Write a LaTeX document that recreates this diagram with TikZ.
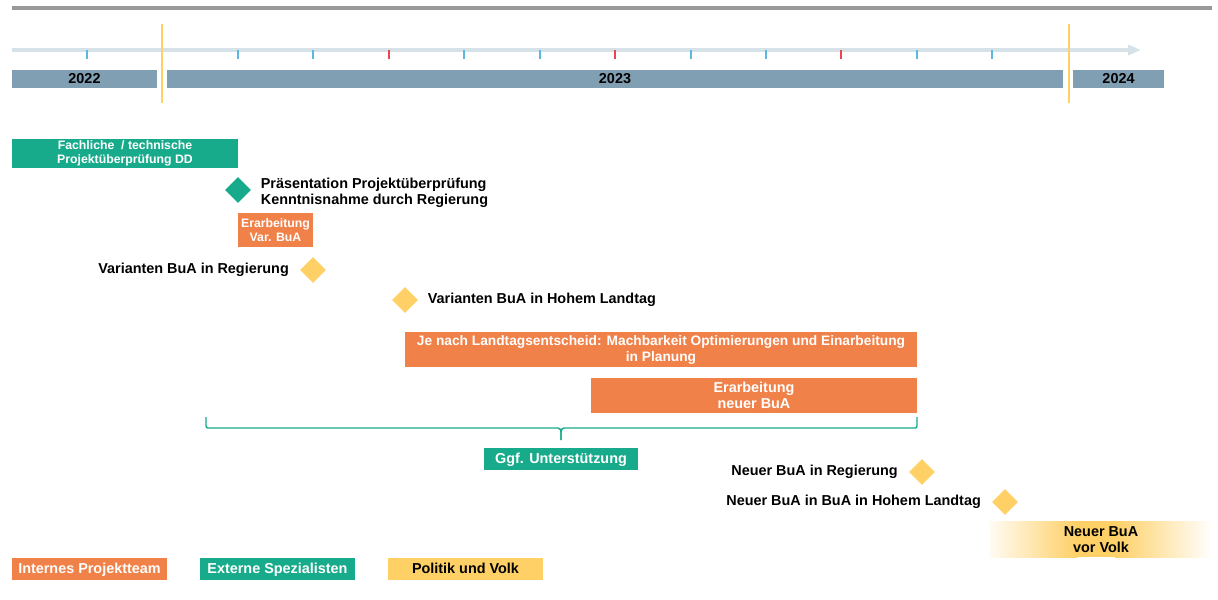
\documentclass[tikz,border=0pt]{standalone}
\usepackage{fontspec}
\setmainfont{Liberation Sans}
\usepackage{tikz}
\usetikzlibrary{arrows.meta, positioning, shapes.geometric}

\definecolor{tealgreen}{HTML}{18AB8B}
\definecolor{projorange}{HTML}{F08149}
\definecolor{politgold}{HTML}{FED066}
\definecolor{yearblue}{HTML}{819FB3}
\definecolor{axisgrey}{HTML}{D6E1E8}
\definecolor{tickblue}{HTML}{5BB9E1}
\definecolor{tickred}{HTML}{E5484D}

\begin{document}
\begin{tikzpicture}[
    x=0.75pt, y=-0.75pt,
    >=Stealth,
    txt/.style={font=\fontsize{10.8}{12}\selectfont\bfseries},
    widetxt/.style={font=\fontsize{10.3}{12}\selectfont\bfseries},
    smalltxt/.style={font=\fontsize{9.2}{10.8}\selectfont\bfseries},
    bar/.style={rectangle, inner sep=0pt, align=center},
    year bar/.style={bar, fill=yearblue, minimum height=13.5pt, txt},
    orange task/.style={bar, fill=projorange, text=white},
    green task/.style={bar, fill=tealgreen, text=white},
    gold task/.style={bar, fill=politgold, text=black},
    legend box/.style={txt, minimum width=116.25pt, minimum height=16.5pt, text height=1.6ex, text depth=0.2ex},
    milestone/.style={diamond, inner sep=0pt, minimum width=19.5pt, minimum height=19.5pt},
    ms text/.style={txt, inner sep=0pt, align=left},
    node distance=7pt
]

    \useasboundingbox (0,0) rectangle (1218,600);

    % Top rule and time axis
    \draw[line width=3.5pt, black!40] (12,8) -- (1212,8);
    \draw[line width=3pt, axisgrey, -{Triangle[length=9.75pt, width=7.5pt]}] (12,50) -- (1141,50);
    \foreach \m in {87,238,313,464,540,691,766,917,992}
        \draw[line width=1.1pt, tickblue] (\m,50) -- (\m,59);
    \foreach \m in {389,615,841}
        \draw[line width=1.1pt, tickred] (\m,50) -- (\m,59);

    % Years
    \node[year bar, minimum width=108.75pt] (y2022) at (84.5,79) {2022};
    \node[year bar, minimum width=672pt] (y2023) at (615,79) {2023};
    \node[year bar, minimum width=68.25pt] (y2024) at (1118.5,79) {2024};
    \draw[line width=1.8pt, politgold] (162,24) -- (162,103);
    \draw[line width=1.8pt, politgold] (1069,24) -- (1069,103);

    % Tasks and milestones
    \node[green task, smalltxt, minimum width=169.5pt, minimum height=21.75pt] (review) at (125,153.5)
        {Fachliche~ / technische\\Projektüberprüfung DD};
    \node[milestone, fill=tealgreen] (present) at (238,190) {};
    \node[ms text, right=7pt of present, yshift=-2pt] (presentlbl)
        {Präsentation Projektüberprüfung\\Kenntnisnahme durch Regierung};

    \node[orange task, smalltxt, minimum width=56.25pt, minimum height=25.5pt] (varwork) at (275.5,230)
        {Erarbeitung\\Var. BuA};
    \node[milestone, fill=politgold] (varreg) at (313,270) {};
    \node[ms text, left=8pt of varreg] (varreglbl) {Varianten BuA in Regierung};
    \node[milestone, fill=politgold] (varland) at (405,300) {};
    \node[ms text, right=7pt of varland] (varlandlbl) {Varianten BuA in Hohem Landtag};

    \node[orange task, widetxt, minimum width=384pt, minimum height=26.25pt] (optim) at (661,349.5)
        {Je nach Landtagsentscheid: Machbarkeit Optimierungen und Einarbeitung\\in Planung};
    \node[orange task, txt, minimum width=244.5pt, minimum height=26.25pt] (newwork) at (754,395.5)
        {Erarbeitung\\neuer BuA};

    % Support bracket
    \coordinate (braceL) at (206,417);
    \coordinate (braceR) at (917,417);
    \coordinate (braceTip) at (561,440);
    \draw[tealgreen, line width=1.1pt]
        (braceL) -- ++(0,9) to[out=-90,in=180] ++(2,2) -- (558,428)
        to[out=0,in=90] (561,432) -- (braceTip);
    \draw[tealgreen, line width=1.1pt]
        (braceR) -- ++(0,9) to[out=-90,in=0] ++(-2,2) -- (564,428)
        to[out=180,in=90] (561,432) -- (braceTip);
    \node[green task, legend box, minimum width=115.5pt] (support) at (561,459)
        {Ggf. Unterstützung};

    \node[milestone, fill=politgold] (newreg) at (922,472) {};
    \node[ms text, left=8pt of newreg] (newreglbl) {Neuer BuA in Regierung};
    \node[milestone, fill=politgold] (newland) at (1005,502) {};
    \node[ms text, left=8pt of newland] (newlandlbl) {Neuer BuA in BuA in Hohem Landtag};

    % Popular vote, faded
    \shade[left color=politgold!8, right color=politgold] (990,521) rectangle (1077,557);
    \fill[politgold] (1076,521) rectangle (1116,557);
    \shade[left color=politgold, right color=white] (1115,521) rectangle (1212,557);
    \node[txt, align=center, inner sep=0pt] (vote) at (1101,540) {Neuer BuA\\vor Volk};

    % Legend
    \node[orange task, legend box] (legint) at (89.5,569) {Internes Projektteam};
    \node[green task, legend box] (legext) at (277.5,569) {Externe Spezialisten};
    \node[gold task, legend box] (legpol) at (465.5,569) {Politik und Volk};

\end{tikzpicture}
\end{document}
